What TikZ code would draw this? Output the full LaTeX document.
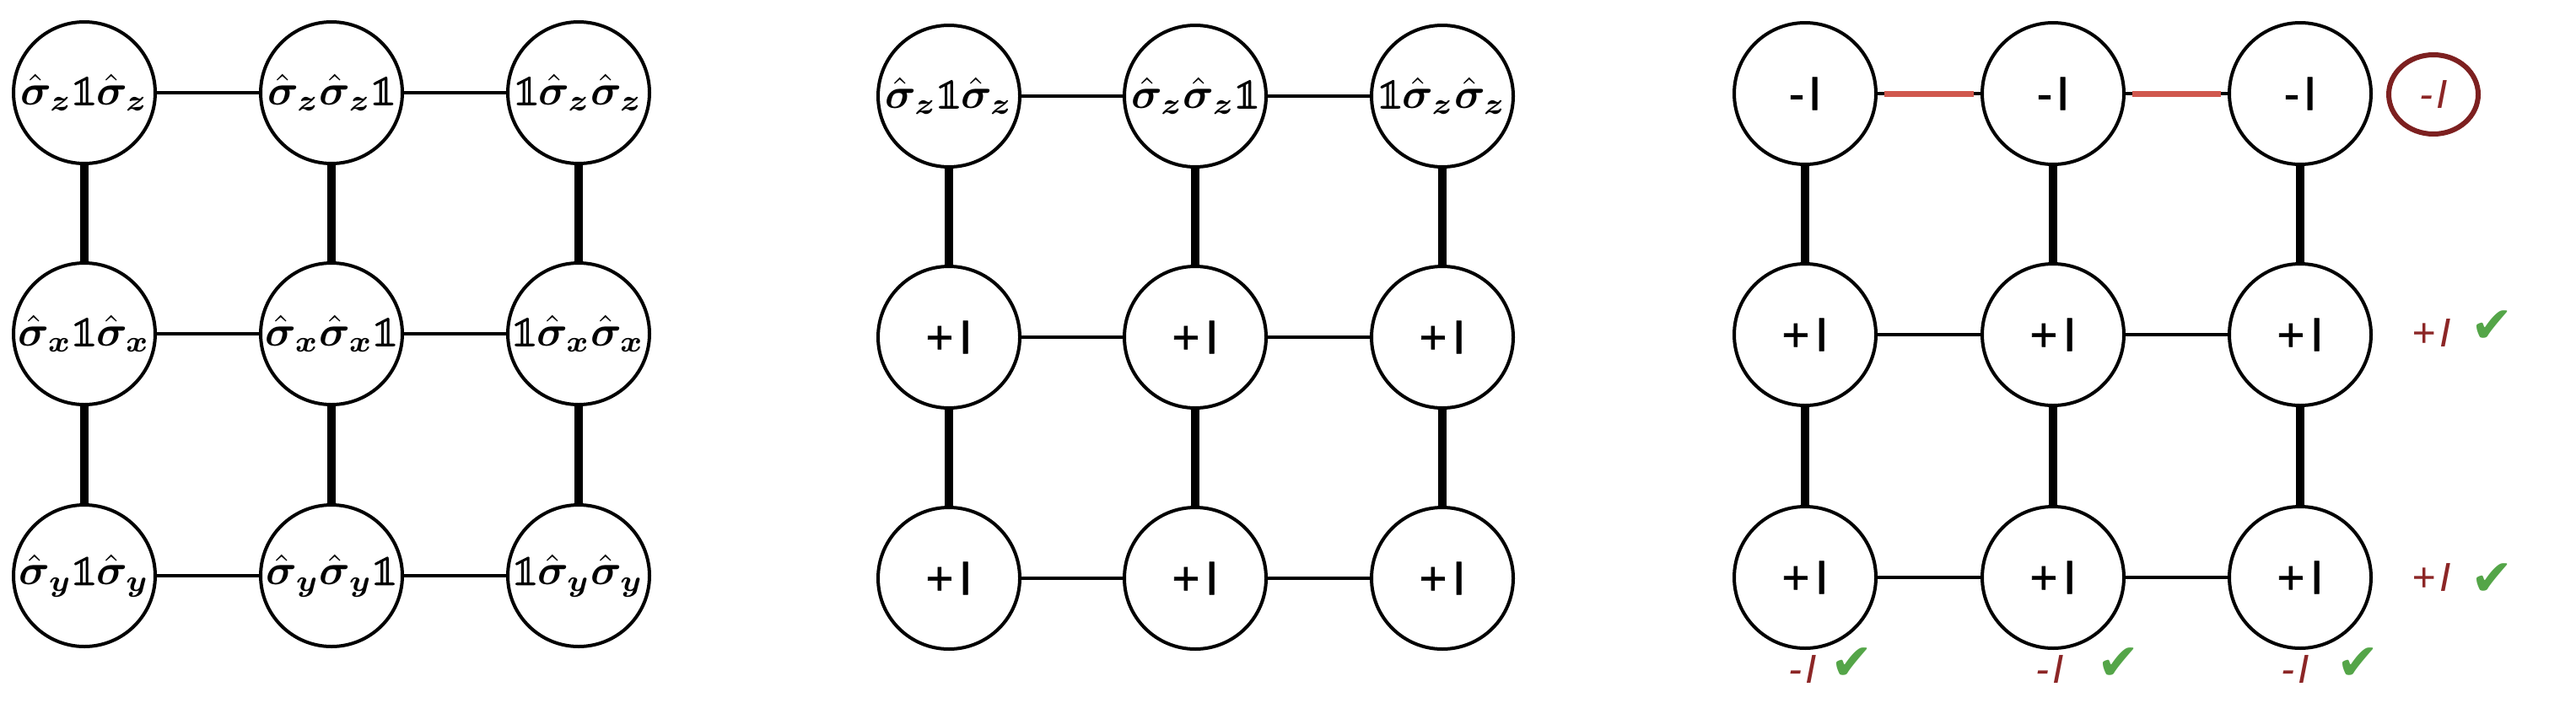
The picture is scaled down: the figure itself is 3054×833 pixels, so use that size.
\documentclass[tikz,border=0pt]{standalone}
\usepackage{fontspec}
\usepackage{amsmath,bm}
\usetikzlibrary{shapes.geometric}
\newfontfamily\sansfnt{Liberation Sans}
\newfontfamily\sanssemi{Liberation Sans}[FakeBold=1.2]
\newfontfamily\symfnt{DejaVu Sans}
\newfontfamily\lmmfnt{latinmodern-math.otf}[FakeBold=2]
\definecolor{redline}{RGB}{208,88,78}
\definecolor{darkred}{RGB}{125,32,32}
\definecolor{labred}{RGB}{140,38,38}
\definecolor{chkgreen}{RGB}{84,165,72}
\tikzset{
  site/.style={circle, draw, line width=4pt, minimum size=168pt, inner sep=0pt, fill=white},
  hbond/.style={line width=4pt},
  vbond/.style={line width=10pt},
  redbond/.style={line width=7pt, redline},
  optext/.style={font=\sanssemi\fontsize{56}{60}\selectfont},
  redlab/.style={font=\sansfnt\fontsize{48}{52}\selectfont\itshape, text=labred, inner sep=0pt},
  chk/.style={font=\symfnt\fontsize{60}{66}\selectfont, text=chkgreen, inner sep=0pt},
}
\newcommand{\mlab}[1]{\scalebox{5.1}{$#1$}}
\newcommand{\sz}{\bm{\hat{\sigma}_z}}
\newcommand{\sx}{\bm{\hat{\sigma}_x}}
\newcommand{\sy}{\bm{\hat{\sigma}_y}}
\newcommand{\one}{\text{\lmmfnt 𝟙}}
\newcommand{\pI}{+\kern0.12em I}
\newcommand{\mI}{-\kern0.08em I}
\newcommand{\rpI}{+\kern0.1em I}
\newcommand{\rmI}{-\kern0.08em I}
\begin{document}
\begin{tikzpicture}[x=1pt, y=-1pt]
\useasboundingbox (0,0) rectangle (3054,833);
% ---------- left panel ----------
\node[site] (l11) at (100,110) {\mlab{\sz\one\sz}};
\node[site] (l12) at (393,110) {\mlab{\sz\sz\one}};
\node[site] (l13) at (686,110) {\mlab{\one\sz\sz}};
\node[site] (l21) at (100,396) {\mlab{\sx\one\sx}};
\node[site] (l22) at (393,396) {\mlab{\sx\sx\one}};
\node[site] (l23) at (686,396) {\mlab{\one\sx\sx}};
\node[site] (l31) at (100,683) {\mlab{\sy\one\sy}};
\node[site] (l32) at (393,683) {\mlab{\sy\sy\one}};
\node[site] (l33) at (686,683) {\mlab{\one\sy\sy}};
\foreach \r in {1,2,3}{
  \draw[hbond] (l\r1) -- (l\r2);
  \draw[hbond] (l\r2) -- (l\r3);
}
\foreach \c in {1,2,3}{
  \draw[vbond] (l1\c) -- (l2\c);
  \draw[vbond] (l2\c) -- (l3\c);
}
% ---------- middle panel ----------
\node[site] (m11) at (1125,114) {\mlab{\sz\one\sz}};
\node[site] (m12) at (1417,114) {\mlab{\sz\sz\one}};
\node[site] (m13) at (1710,114) {\mlab{\one\sz\sz}};
\foreach \r/\y in {2/400,3/686}{
  \node[site,optext] (m\r1) at (1125,\y) {\pI};
  \node[site,optext] (m\r2) at (1417,\y) {\pI};
  \node[site,optext] (m\r3) at (1710,\y) {\pI};
}
\foreach \r in {1,2,3}{
  \draw[hbond] (m\r1) -- (m\r2);
  \draw[hbond] (m\r2) -- (m\r3);
}
\foreach \c in {1,2,3}{
  \draw[vbond] (m1\c) -- (m2\c);
  \draw[vbond] (m2\c) -- (m3\c);
}
% ---------- right panel ----------
\node[site,optext] (r11) at (2140,111) {\mI};
\node[site,optext] (r12) at (2434,111) {\mI};
\node[site,optext] (r13) at (2727,111) {\mI};
\foreach \r/\y in {2/397,3/685}{
  \node[site,optext] (r\r1) at (2140,\y) {\pI};
  \node[site,optext] (r\r2) at (2434,\y) {\pI};
  \node[site,optext] (r\r3) at (2727,\y) {\pI};
}
\draw[hbond] (r11) -- (r12);
\draw[hbond] (r12) -- (r13);
\draw[redbond, shorten <=8pt, shorten >=8pt] (r11) -- (r12);
\draw[redbond, shorten <=8pt, shorten >=8pt] (r12) -- (r13);
\foreach \r in {2,3}{
  \draw[hbond] (r\r1) -- (r\r2);
  \draw[hbond] (r\r2) -- (r\r3);
}
\foreach \c in {1,2,3}{
  \draw[vbond] (r1\c) -- (r2\c);
  \draw[vbond] (r2\c) -- (r3\c);
}
% annotations
\node[draw=darkred, line width=6pt, ellipse, minimum width=106pt, minimum height=94pt, inner sep=0pt, redlab] (rowz) at (2885,112) {\rmI};
\node[redlab] (rowx) at (2883,395) {\rpI};
\node[chk] (chkx) at (2955,388) {✔};
\node[redlab] (rowy) at (2883,685) {\rpI};
\node[chk] (chky) at (2955,688) {✔};
\node[redlab] (col1) at (2137,794) {\rmI};
\node[chk] (chk1) at (2196,788) {✔};
\node[redlab] (col2) at (2430,794) {\rmI};
\node[chk] (chk2) at (2512,788) {✔};
\node[redlab] (col3) at (2721,794) {\rmI};
\node[chk] (chk3) at (2796,788) {✔};
\end{tikzpicture}
\end{document}
